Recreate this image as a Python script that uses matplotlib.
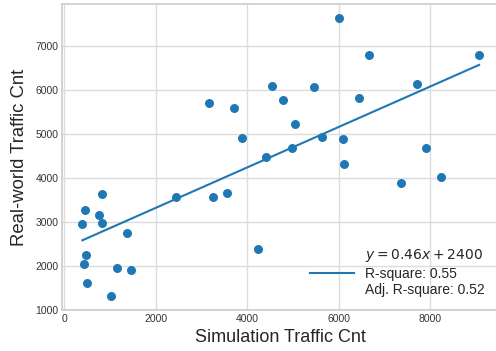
import matplotlib
matplotlib.use("Agg")
import matplotlib.pyplot as plt
import numpy as np

sim_cnt = [400, 466, 437, 473, 495, 764, 823, 837, 1019, 1150, 1376, 1470,
           2445, 3173, 3261, 3559, 3705, 3886, 4243, 4404, 4550, 4789, 4985,
           5051, 5459, 5640, 6004, 6099, 6106, 6434, 6659, 7358, 7707, 7897,
           8231, 9068]
real_cnt = [2960, 3270, 2050, 2240, 1620, 3170, 2980, 3630, 1310, 1950, 2740,
            1910, 3575, 5700, 3570, 3650, 5600, 4915, 2395, 4470, 6090, 5765,
            4680, 5220, 6075, 4940, 7630, 4880, 4325, 5820, 6795, 3880, 6145,
            4680, 4030, 6795]
slope = 0.46
intercept = 2400
r_square = 0.55
adj_r_square = 0.52

plt.rcParams['font.family'] = ['Liberation Sans', 'DejaVu Sans']

fig = plt.figure(figsize=(4.96, 3.51), dpi=100)
ax = fig.add_axes([0.126, 0.116, 0.880, 0.8715])
ax.set_facecolor('white')

blue = '#1f77b4'
ax.scatter(sim_cnt, real_cnt, s=42, color=blue, zorder=3, linewidths=0)
xs = np.array([min(sim_cnt), max(sim_cnt)])
label = (r'$y = %.2fx + %d$' % (slope, intercept) + '\n'
         + 'R-square: %.2f' % r_square + '\n'
         + 'Adj. R-square: %.2f' % adj_r_square)
ax.plot(xs, slope * xs + intercept, color=blue, lw=1.5, label=label, zorder=2)

ax.grid(True, color='#dcdcdc', lw=1.0)
ax.set_axisbelow(True)
for s in ax.spines.values():
    s.set_color('#cccccc')
    s.set_linewidth(1.2)
ax.tick_params(axis='both', length=0, labelsize=7.5, labelcolor='#333333', pad=3)
ax.set_xticks([0, 2000, 4000, 6000, 8000])
ax.set_yticks([1000, 2000, 3000, 4000, 5000, 6000, 7000])

ax.set_xlabel('Simulation Traffic Cnt', fontsize=13, color='#262626', labelpad=3)
ax.set_ylabel('Real-world Traffic Cnt', fontsize=13.3, color='#262626', labelpad=5)

leg = ax.legend(loc='lower right', fontsize=10, frameon=False, handlelength=3.2,
                borderaxespad=0.3, bbox_to_anchor=(0.99, 0.012))
for t in leg.get_texts():
    t.set_color('#262626')

fig.savefig('out.png', dpi=100)
